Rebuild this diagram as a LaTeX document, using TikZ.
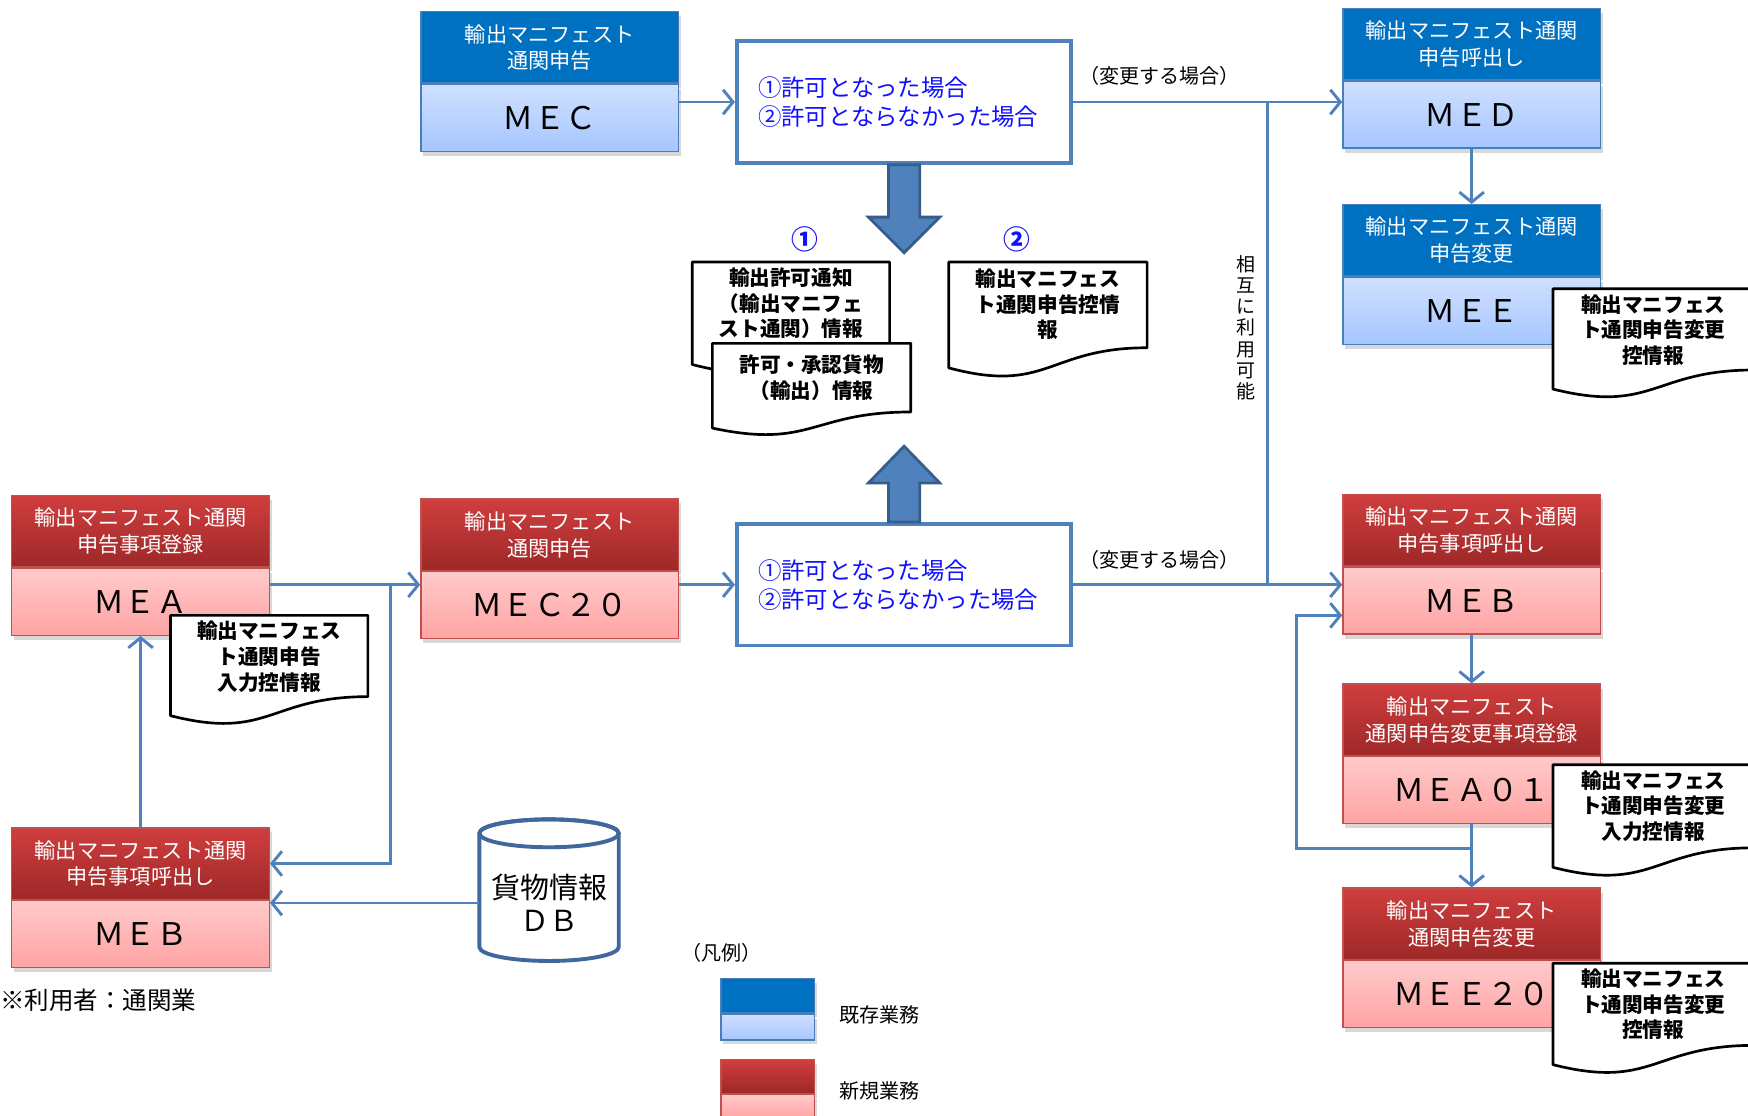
\documentclass[tikz,border=0pt]{standalone}
\usepackage{fontspec}
\setmainfont{Noto Sans CJK JP}
\usetikzlibrary{arrows.meta,shadows,calc,positioning}

\definecolor{bluehd}{HTML}{0070C0}
\definecolor{bluetop}{HTML}{CFE0FF}
\definecolor{bluebot}{HTML}{A6C6FF}
\definecolor{blueline}{HTML}{4A7EBB}
\definecolor{redhdtop}{HTML}{D03E3E}
\definecolor{redhdbot}{HTML}{9E2828}
\definecolor{redtop}{HTML}{FFCACA}
\definecolor{redbot}{HTML}{FFA3A3}
\definecolor{redline}{HTML}{C0504D}
\definecolor{linkblue}{HTML}{4F81BD}
\definecolor{arrowline}{HTML}{385D8A}
\definecolor{textblue}{HTML}{1010FF}
\definecolor{dbline}{HTML}{41689C}

% one application box: header + code part
\newcommand{\appbox}[6]{%
  \node[#1head, anchor=north west] (#2h) at (#3,#4) {#5};
  \node[#1body, anchor=north] (#2) at (#2h.south) {#6};}

% document symbol with wavy bottom: x, y, w, h, name, text offset, text
\newcommand{\docshape}[7]{%
  \filldraw[docline] (#1,#2) -- ({#1+#3},#2) -- ({#1+#3},{#2+0.81*#4})
    .. controls ({#1+#3/2},{#2+0.81*#4}) and ({#1+#3/2},{#2+1.25*#4}) .. (#1,{#2+#4}) -- cycle
    node[doctext, anchor=north] (#5) at ({#1+#3/2},{#2+#6}) {#7};}

\begin{document}
\begin{tikzpicture}[x=1pt, y=-1pt,
    boxhead/.style={rectangle, minimum width=231pt, minimum height=64pt, inner sep=0pt, align=center,
      text=white, font=\fontsize{19}{24}\selectfont, line width=1.2pt,
      drop shadow={opacity=0.3, shadow xshift=2pt, shadow yshift=-4pt}},
    boxbody/.style={rectangle, minimum width=231pt, minimum height=60pt, inner sep=0pt,
      font=\fontsize{28}{30}\selectfont, line width=1.2pt,
      drop shadow={opacity=0.3, shadow xshift=2pt, shadow yshift=-4pt}},
    bluehead/.style={boxhead, draw=blueline, fill=bluehd},
    bluebody/.style={boxbody, draw=blueline, top color=bluetop, bottom color=bluebot},
    redhead/.style={boxhead, draw=redline, top color=redhdtop, bottom color=redhdbot},
    redbody/.style={boxbody, draw=redline, top color=redtop, bottom color=redbot},
    resbox/.style={rectangle, draw=linkblue, line width=3.5pt, fill=white, minimum width=300pt,
      minimum height=109pt, text width=262pt, align=left, text=textblue, font=\fontsize{21}{26}\selectfont},
    docline/.style={draw=black, line width=2.4pt, fill=white, line join=round},
    doctext/.style={font=\bfseries\fontsize{18.5}{23}\selectfont, align=center, inner sep=0pt},
    note/.style={font=\fontsize{18}{20}\selectfont, inner sep=0pt},
    circnum/.style={font=\bfseries\fontsize{24}{24}\selectfont, text=textblue, inner sep=0pt},
    link/.style={draw=linkblue, line width=2.6pt},
    arrow/.style={link, -{Straight Barb[length=9pt, width=22pt]}},
    bigarrow/.style={fill=linkblue, draw=arrowline, line width=2.5pt, line join=miter}
]
    \fill[white] (0,0) rectangle (1568,1001);
    \useasboundingbox (0,0) rectangle (1568,1001);

    % existing (blue) boxes
    \appbox{blue}{mec}{377}{10}{輸出マニフェスト\\通関申告}{ＭＥＣ}
    \appbox{blue}{med}{1204}{7}{輸出マニフェスト通関\\申告呼出し}{ＭＥＤ}
    \appbox{blue}{mee}{1204}{183}{輸出マニフェスト通関\\申告変更}{ＭＥＥ}

    % new (red) boxes
    \appbox{red}{mea}{10}{444}{輸出マニフェスト通関\\申告事項登録}{ＭＥＡ}
    \appbox{red}{mec20}{377}{447}{輸出マニフェスト\\通関申告}{ＭＥＣ２０}
    \appbox{red}{mebl}{10}{742}{輸出マニフェスト通関\\申告事項呼出し}{ＭＥＢ}
    \appbox{red}{mebr}{1204}{443}{輸出マニフェスト通関\\申告事項呼出し}{ＭＥＢ}
    \appbox{red}{mea01}{1204}{613}{輸出マニフェスト\\通関申告変更事項登録}{ＭＥＡ０１}
    \appbox{red}{mee20}{1204}{796}{輸出マニフェスト\\通関申告変更}{ＭＥＥ２０}

    % result boxes
    \node[resbox] (restop) at (811,91.5) {①許可となった場合\\②許可とならなかった場合};
    \node[resbox] (resbot) at (811,524.5) {①許可となった場合\\②許可とならなかった場合};

    % block arrows
    \filldraw[bigarrow] ([xshift=-14pt]restop.south) -- ++(0,47) -- ++(-18,0) -- ++(32,32)
      -- ++(32,-32) -- ++(-18,0) -- ++(0,-47) -- cycle;
    \filldraw[bigarrow] ([xshift=-14pt]resbot.north) -- ++(0,-35) -- ++(-18,0) -- ++(32,-33)
      -- ++(32,33) -- ++(-18,0) -- ++(0,35) -- cycle;

    \node[circnum] (num1) at (722,215) {①};
    \node[circnum] (num2) at (912,215) {②};

    % documents
    \docshape{621}{235}{177}{92}{doc1}{4}{輸出許可通知\\（輸出マニフェ\\スト通関）情報}
    \docshape{639}{308}{178}{76}{doc2}{9}{許可・承認貨物\\（輸出）情報}
    \docshape{851}{235}{178}{95}{doc3}{5}{輸出マニフェス\\ト通関申告控情\\報}
    \docshape{153}{552}{177}{90}{docmea}{4}{輸出マニフェス\\ト通関申告\\入力控情報}
    \docshape{1393}{259}{180}{90}{docmee}{4}{輸出マニフェス\\ト通関申告変更\\控情報}
    \docshape{1393}{686}{180}{92}{docmea01}{4}{輸出マニフェス\\ト通関申告変更\\入力控情報}
    \docshape{1393}{864}{180}{91}{docmee20}{4}{輸出マニフェス\\ト通関申告変更\\控情報}

    % database
    \filldraw[draw=dbline, fill=white, line width=3.5pt] (430,747.5) -- (430,849.5)
      arc[start angle=180, end angle=360, x radius=62.5pt, y radius=12.5pt] -- (555,747.5)
      arc[start angle=0, end angle=180, x radius=62.5pt, y radius=12.5pt];
    \draw[draw=dbline, line width=3.5pt] (492.5,747.5) ellipse[x radius=62.5pt, y radius=12.5pt];
    \node[font=\fontsize{26}{30}\selectfont, align=center, minimum width=125pt, inner sep=0pt] (db) at (492.5,810) {貨物情報\\ＤＢ};

    % connectors, upper flow
    \draw[arrow] (mec.east |- restop.west) -- (restop.west);
    \draw[arrow] (restop.east) -- (restop.east -| med.west);
    \draw[arrow] (med.south) -- (meeh.north);
    \coordinate (jt) at (1137,91.5);
    \coordinate (jb) at (1137,524.5);
    \draw[link] (jt) -- (jb);
    \node[note] (chg1) at (1040,68) {（変更する場合）};
    \node[note, align=center, font=\fontsize{17}{19}\selectfont] (mutual) at (1118,294) {相\\互\\に\\利\\用\\可\\能};

    % connectors, lower flow
    \draw[arrow] (mea.east |- resbot.west) -- (mec20.west |- resbot.west);
    \coordinate (fork) at (350,524.5);
    \draw[arrow] (fork) |- (meblh.east);
    \draw[arrow] (meblh.north) -- (mea.south);
    \draw[arrow] (db.west) -- (db.west -| mebl.east);
    \draw[arrow] (mec20.east |- resbot.west) -- (resbot.west);
    \draw[arrow] (resbot.east) -- (resbot.east -| mebr.west);
    \node[note] (chg2) at (1040,502) {（変更する場合）};
    \draw[arrow] (mebr.south) -- (mea01h.north);
    \draw[arrow] (mea01.south) -- (mee20h.north);
    \coordinate (loopb) at (1163,761);
    \coordinate (loopt) at (1163,552);
    \draw[arrow] (mea01.south |- loopb) -- (loopb) -- (loopt) -- (loopt -| mebr.west);

    % user note
    \node[font=\fontsize{22}{24}\selectfont, anchor=west, inner sep=0pt] (user) at (0,897) {※利用者：通関業};

    % legend
    \node[note, anchor=west] (legtitle) at (611,855) {（凡例）};
    \node[bluehead, minimum width=84pt, minimum height=31pt, anchor=north west] (legbh) at (646,877) {};
    \node[bluebody, minimum width=84pt, minimum height=23pt, anchor=north] (legb) at (legbh.south) {};
    \node[note, anchor=west] (legbt) at (753,910) {既存業務};
    \node[redhead, minimum width=84pt, minimum height=30pt, anchor=north west] (legrh) at (646,950) {};
    \node[redbody, minimum width=84pt, minimum height=22pt, anchor=north] (legr) at (legrh.south) {};
    \node[note, anchor=west] (legrt) at (753,979) {新規業務};
\end{tikzpicture}
\end{document}
